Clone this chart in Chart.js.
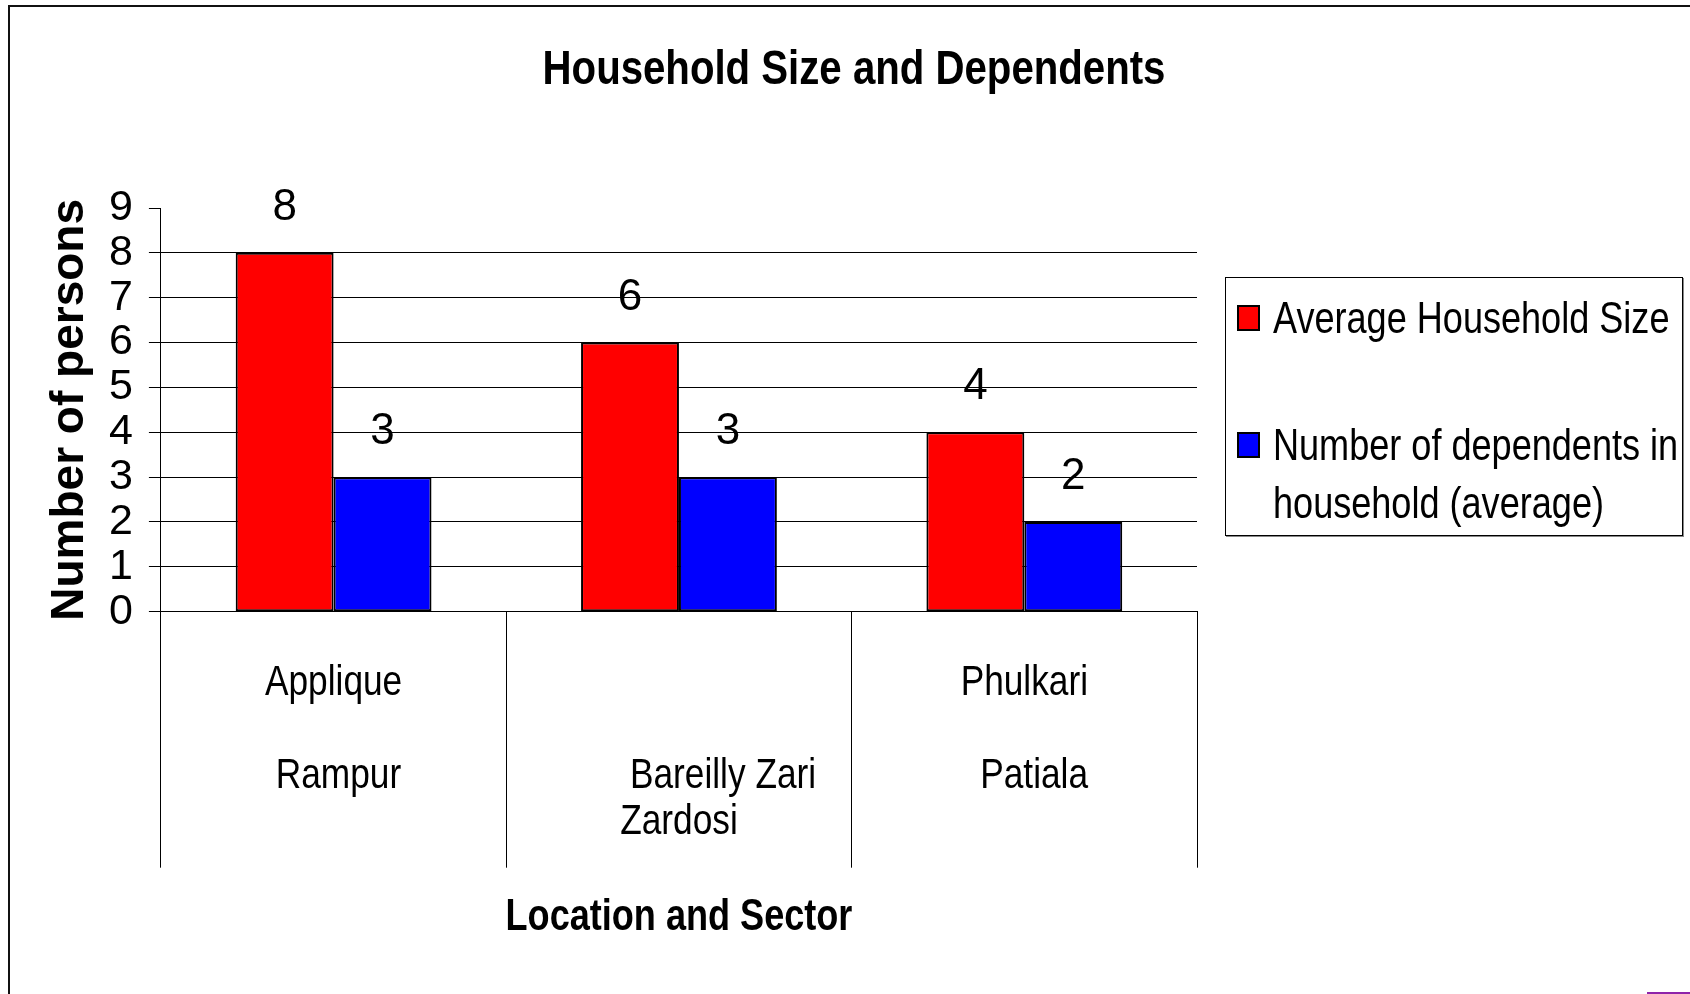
<!DOCTYPE html>
<html>
<head>
<meta charset="utf-8">
<title>Household Size and Dependents</title>
<script src="https://cdn.jsdelivr.net/npm/chart.js@4.4.1/dist/chart.umd.min.js"></script>
<style>
  html, body { margin: 0; padding: 0; background: #fff; }
  #wrap { position: relative; width: 1690px; height: 994px; overflow: hidden; }
  #frame { position: absolute; left: 8px; top: 5px; width: 1700px; height: 1000px;
           border-top: 2px solid #111; border-left: 2px solid #111; }
  #c { position: absolute; left: 0; top: 0; }
  #legend { position: absolute; left: 1225px; top: 277px; width: 456px; height: 257px;
            border: 1px solid #000; box-shadow: 1px 1px 0 #888; background: #fff;
            font-family: 'Liberation Sans', Arial, sans-serif;
            font-size: 44px; line-height: 58px; color: #000; }
  .item { position: absolute; left: 11px; width: 440px; }
  .swatch { position: absolute; left: 0; top: 16px; width: 19px; height: 22px; border: 2px solid #000; }
  .text { position: absolute; left: 36px; top: 0; width: 505px;
          transform: scaleX(0.82); transform-origin: 0 0; }
  #mark { position: absolute; left: 1647px; top: 992px; width: 43px; height: 2px; background: #8e24aa; }
</style>
</head>
<body>
<div id="wrap">
  <div id="frame"></div>
  <canvas id="c" width="1690" height="994"></canvas>
  <div id="legend"></div>
  <div id="mark"></div>
</div>
<script>
const ctx = document.getElementById('c');

// categories (blank lines and leading spaces keep the original label placement)
const categories = [
    ['Applique', '', ' Rampur'],
    ['', '', '         Bareilly Zari', 'Zardosi'],
    ['Phulkari', '', '  Patiala']
];
const householdSize = [8, 6, 4];
const dependents = [3, 3, 2];
const seriesNames = ['Average Household Size', 'Number of dependents in household (average)'];
const seriesColors = ['#ff0000', '#0000ff'];
const yMin = 0;
const yMax = 9;
const chartTitle = 'Household Size and Dependents';
const xTitle = 'Location and Sector';
const yTitle = 'Number of persons';

const regular = "'Liberation Sans', Arial, sans-serif";

Chart.defaults.color = '#000';
Chart.defaults.font.family = regular;

// the original uses a narrow face, so squeeze Liberation Sans horizontally
function narrowText(c, text, x, y, size, bold) {
    c.save();
    c.font = (bold ? 'bold ' : '') + size + 'px ' + regular;
    c.fillStyle = '#000';
    c.textAlign = 'center';
    c.textBaseline = 'middle';
    c.translate(x, y);
    c.scale(0.82, 1);
    c.fillText(text, 0, 0);
    c.restore();
}

// numbers above the bars
const valueLabels = {
    id: 'valueLabels',
    afterDatasetsDraw(chart) {
        const c = chart.ctx;
        c.save();
        c.font = '44px ' + regular;
        c.fillStyle = '#000';
        c.textAlign = 'center';
        c.textBaseline = 'middle';
        chart.data.datasets.forEach((ds, i) => {
            chart.getDatasetMeta(i).data.forEach((bar, j) => {
                c.fillText(ds.data[j], bar.x, bar.y - 45);
            });
        });
        c.restore();
    }
};

// title, category labels and x title in the narrow style
const narrowLabels = {
    id: 'narrowLabels',
    afterDraw(chart) {
        const c = chart.ctx;
        const area = chart.chartArea;
        const xs = chart.scales.x;
        narrowText(c, chartTitle, 854, 70, 49, true);
        chart.data.labels.forEach((lines, i) => {
            const px = xs.getPixelForValue(i);
            lines.forEach((line, k) => {
                if (line) narrowText(c, line, px, area.bottom + 71.3 + k * 46.35, 43, false);
            });
        });
        narrowText(c, xTitle, (area.left + area.right) / 2, area.bottom + 306.3, 44, true);
    }
};

const chart = new Chart(ctx, {
    type: 'bar',
    data: {
        labels: categories,
        datasets: [
            {
                label: seriesNames[0],
                data: householdSize,
                backgroundColor: seriesColors[0],
                borderColor: '#000',
                borderWidth: 2,
                borderSkipped: false
            },
            {
                label: seriesNames[1],
                data: dependents,
                backgroundColor: seriesColors[1],
                borderColor: '#000',
                borderWidth: 2,
                borderSkipped: false
            }
        ]
    },
    options: {
        responsive: false,
        animation: false,
        devicePixelRatio: 1,
        categoryPercentage: 0.567,
        barPercentage: 1,
        layout: {
            padding: { left: 47, right: 0, top: 208, bottom: 0 }
        },
        plugins: {
            legend: { display: false },
            tooltip: { enabled: false },
            title: { display: false }
        },
        scales: {
            x: {
                grid: {
                    offset: true,
                    drawOnChartArea: false,
                    tickLength: 256,
                    tickColor: '#000',
                    tickWidth: 1
                },
                border: { color: '#000', width: 1 },
                ticks: { display: false },
                afterFit(scale) { scale.height = 382.3; }
            },
            y: {
                min: yMin,
                max: yMax,
                ticks: {
                    stepSize: 1,
                    autoSkip: false,
                    font: { family: regular, size: 43, lineHeight: 1.0 },
                    padding: 16,
                    color: '#000'
                },
                grid: {
                    color: (c) => (c.tick && c.tick.value === yMax ? 'rgba(0,0,0,0)' : '#000'),
                    tickColor: '#000',
                    tickLength: 12,
                    lineWidth: 1
                },
                border: { color: '#000', width: 1 },
                title: {
                    display: true,
                    text: yTitle,
                    font: { family: regular, size: 46, weight: 'bold', lineHeight: 1.0 },
                    padding: { top: 0, bottom: 0 },
                    color: '#000'
                }
            },
            // empty space on the right where the legend sits
            y2: {
                position: 'right',
                grid: { display: false },
                border: { display: false },
                ticks: { display: false },
                afterFit(scale) { scale.width = 493; }
            }
        }
    },
    plugins: [valueLabels, narrowLabels]
});

// legend box built from the chart's datasets
const legendEl = document.getElementById('legend');
const itemTops = [11, 138];
chart.data.datasets.forEach((ds, i) => {
    const item = document.createElement('div');
    item.className = 'item';
    item.style.top = itemTops[i] + 'px';
    const sw = document.createElement('div');
    sw.className = 'swatch';
    sw.style.background = ds.backgroundColor;
    const tx = document.createElement('div');
    tx.className = 'text';
    tx.textContent = ds.label;
    item.appendChild(sw);
    item.appendChild(tx);
    legendEl.appendChild(item);
});
</script>
</body>
</html>
